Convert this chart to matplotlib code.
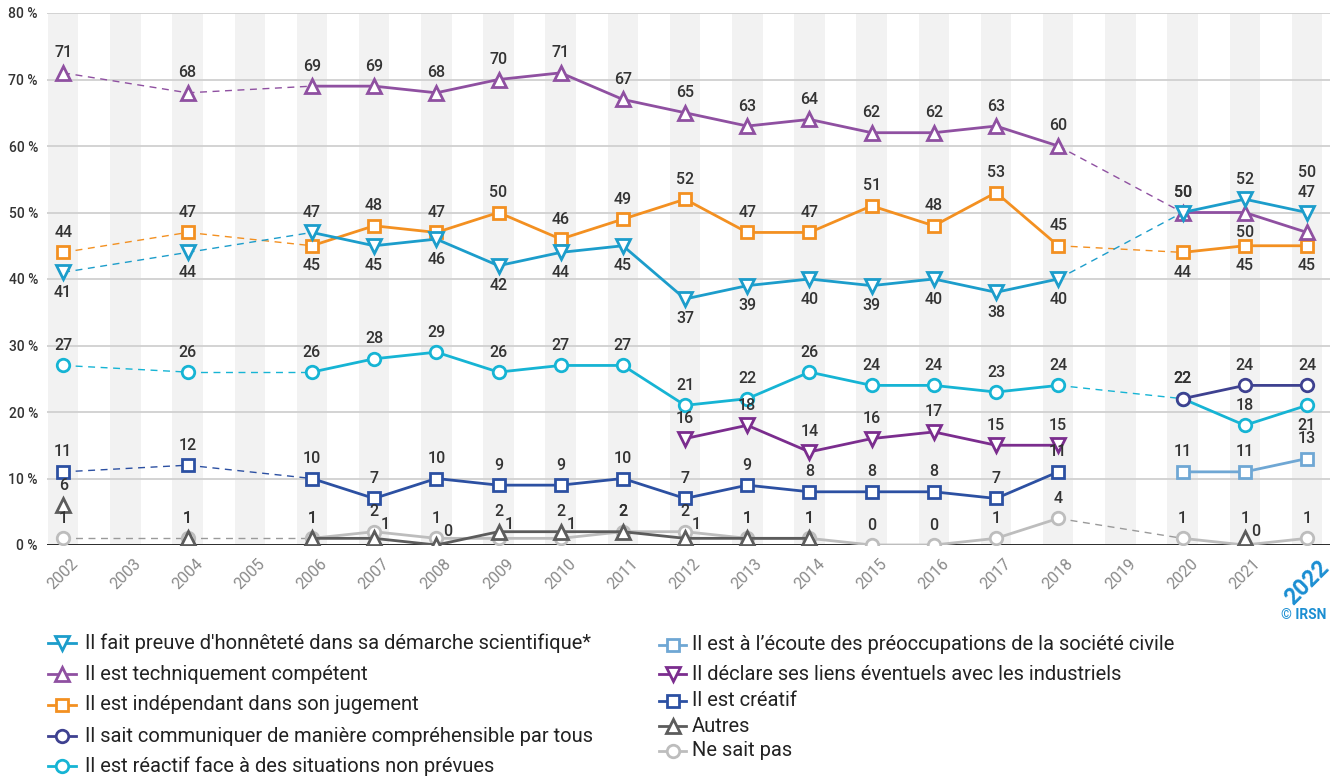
import matplotlib
matplotlib.use("Agg")
import matplotlib.pyplot as plt
from matplotlib.lines import Line2D

plt.rcParams["font.family"] = ["Roboto", "DejaVu Sans"]

# ---------------------------------------------------------------- data
all_years = list(range(2002, 2023))
year_labels = [str(y) for y in all_years]
survey_years = [2002, 2004] + list(range(2006, 2019)) + [2020, 2021, 2022]

honnetete = [41, 44, 47, 45, 46, 42, 44, 45, 37, 39, 40, 39, 40, 38, 40, 50, 52, 50]
competent = [71, 68, 69, 69, 68, 70, 71, 67, 65, 63, 64, 62, 62, 63, 60, 50, 50, 47]
independant = [44, 47, 45, 48, 47, 50, 46, 49, 52, 47, 47, 51, 48, 53, 45, 44, 45, 45]
reactif = [27, 26, 26, 28, 29, 26, 27, 27, 21, 22, 26, 24, 24, 23, 24, 22, 18, 21]
ne_sait_pas = [1, 1, 1, 2, 1, 1, 1, 2, 2, 1, 1, 0, 0, 1, 4, 1, 0, 1]

years_recent = [2020, 2021, 2022]
communiquer = [22, 24, 24]
societe_civile = [11, 11, 13]

years_liens = list(range(2012, 2019))
liens_industriels = [16, 18, 14, 16, 17, 15, 15]

years_creatif = [2002, 2004] + list(range(2006, 2019))
creatif = [11, 12, 10, 7, 10, 9, 9, 10, 7, 9, 8, 8, 8, 7, 11]

years_autres = [2002, 2004, 2006, 2007, 2008, 2009, 2010, 2011, 2012, 2013, 2014, 2021]
autres = [6, 1, 1, 1, 0, 2, 2, 2, 1, 1, 1, 1]

# ---------------------------------------------------------------- styling
# label placement per point: a = above, b = below, t = two rows above,
# r = above and shifted right (when two labels share a column)
series = [
    dict(name="Il fait preuve d'honnêteté dans sa démarche scientifique*",
         x=survey_years, y=honnetete, color="#1c9dcb", marker="v", dashed=True,
         pos="bbabbbbbbbbbbbbaat"),
    dict(name="Il est techniquement compétent",
         x=survey_years, y=competent, color="#8f50a1", marker="^", dashed=True,
         pos="aaaaaaaaaaaaaaaabt"),
    dict(name="Il est indépendant dans son jugement",
         x=survey_years, y=independant, color="#f39021", marker="s", dashed=True,
         pos="aabaaaaaaaaaaaabbb"),
    dict(name="Il sait communiquer de manière compréhensible par tous",
         x=years_recent, y=communiquer, color="#3e4190", marker="o", dashed=True,
         pos="aaa"),
    dict(name="Il est réactif face à des situations non prévues",
         x=survey_years, y=reactif, color="#16b4d4", marker="o", dashed=True,
         pos="aaaaaaaaaaaaaaaaab"),
    dict(name="Il est à l\u2019écoute des préoccupations de la société civile",
         x=years_recent, y=societe_civile, color="#6fa7d4", marker="s", dashed=True,
         pos="aaa"),
    dict(name="Il déclare ses liens éventuels avec les industriels",
         x=years_liens, y=liens_industriels, color="#7b2d8e", marker="v", dashed=True,
         pos="aaaaaaa"),
    dict(name="Il est créatif",
         x=years_creatif, y=creatif, color="#2c50a2", marker="s", dashed=True,
         pos="aaaaaaaaaaaaaaa"),
    dict(name="Autres",
         x=years_autres, y=autres, color="#5c5c5c", marker="^", dashed=False,
         pos="aaarraaaraaa"),
    dict(name="Ne sait pas",
         x=survey_years, y=ne_sait_pas, color="#bdbdbd", marker="o", dashed=True,
         dash_color="#9a9a9a", pos="aaaaarraaaaaaaaara"),
]

W, H = 1333, 776
PX = 0.72  # points per pixel at 100 dpi
offsets = {"a": (0, 20), "b": (0, -20), "t": (0, 40), "r": (11, 14)}
marker_sizes = {"v": 10, "^": 10, "s": 8.5, "o": 9}

fig = plt.figure(figsize=(W / 100, H / 100), dpi=100)
ax = fig.add_axes([47 / W, 1 - 545 / H, (1330 - 47) / W, (545 - 13) / H])

x_min, x_max = 2001.74, 2022.37
ax.set_xlim(x_min, x_max)
ax.set_ylim(0, 80)

# alternating column bands
for yr in all_years:
    ax.axvspan(yr - 0.245, yr + 0.245, color="#f2f2f2", lw=0, zorder=0)

# horizontal grid
for g in range(10, 90, 10):
    ax.axhline(g, color="#d0d0d0", lw=1.3, zorder=1)
ax.axhline(0, color="#1a1a1a", lw=1.3, zorder=1)

for s in ax.spines.values():
    s.set_visible(False)

ax.set_yticks(range(0, 90, 10))
ax.set_yticklabels([f"{v} %" for v in range(0, 90, 10)])
ax.tick_params(axis="y", length=0, pad=6.5, labelsize=10, labelcolor="#333333")
for t in ax.get_yticklabels():
    t.set_fontweight("medium")

ax.set_xticks(all_years)
ax.set_xticklabels(year_labels, rotation=45, ha="center", va="top")
ax.tick_params(axis="x", length=0, pad=8, labelsize=11.5, labelcolor="#8a8a8a")
last = ax.get_xticklabels()[-1]
last.set_color("#1b8ed2")
last.set_fontsize(16.5)
last.set_fontweight("bold")

n = len(series)
for k, s in enumerate(series):
    z = 10 + (n - k) * 2
    xs, ys, col = s["x"], s["y"], s["color"]
    dash_col = s.get("dash_color", col)
    # split into solid runs of consecutive years and dashed bridges over gaps
    run_x, run_y = [xs[0]], [ys[0]]
    for i in range(1, len(xs)):
        if xs[i] - xs[i - 1] == 1:
            run_x.append(xs[i]); run_y.append(ys[i])
        else:
            if len(run_x) > 1:
                ax.plot(run_x, run_y, color=col, lw=2.0, zorder=z, solid_joinstyle="round")
            if s["dashed"]:
                ax.plot([xs[i - 1], xs[i]], [ys[i - 1], ys[i]], color=dash_col, lw=1.0,
                        ls=(0, (5, 4)), zorder=z - 1)
            run_x, run_y = [xs[i]], [ys[i]]
    if len(run_x) > 1:
        ax.plot(run_x, run_y, color=col, lw=2.0, zorder=z, solid_joinstyle="round")
    ax.plot(xs, ys, ls="none", marker=s["marker"], ms=marker_sizes[s["marker"]],
            mfc="white", mec=col, mew=2.0, zorder=z + 1)
    for xv, yv, p in zip(xs, ys, s["pos"]):
        dx, dy = offsets[p]
        ax.annotate(str(yv), (xv, yv), xytext=(dx * PX, dy * PX), textcoords="offset points",
                    ha="center", va="center", fontsize=11.5, color="#333333",
                    fontweight="medium", zorder=40)

# legend, two columns placed in figure pixels
col1 = dict(x0=48, x1=76, tx=85, rows=[643, 674, 705, 736, 766])
col2 = dict(x0=659, x1=686, tx=692, rows=[645, 674, 701, 726, 751])
for k, s in enumerate(series):
    c = col1 if k < 5 else col2
    yp = 1 - c["rows"][k % 5] / H
    fig.add_artist(Line2D([c["x0"] / W, c["x1"] / W], [yp, yp], color=s["color"], lw=2.0))
    fig.add_artist(Line2D([(c["x0"] + c["x1"]) / 2 / W], [yp], ls="none", marker=s["marker"],
                          ms=marker_sizes[s["marker"]], mfc="white", mec=s["color"], mew=2.0))
    fig.text(c["tx"] / W, yp, s["name"], ha="left", va="center", fontsize=14.5, color="#222222")

fig.text(1326 / W, 1 - 615 / H, "© IRSN", ha="right", va="center", fontsize=10,
         color="#1b8ed2", fontweight="bold")

fig.savefig("out.png", dpi=100)
